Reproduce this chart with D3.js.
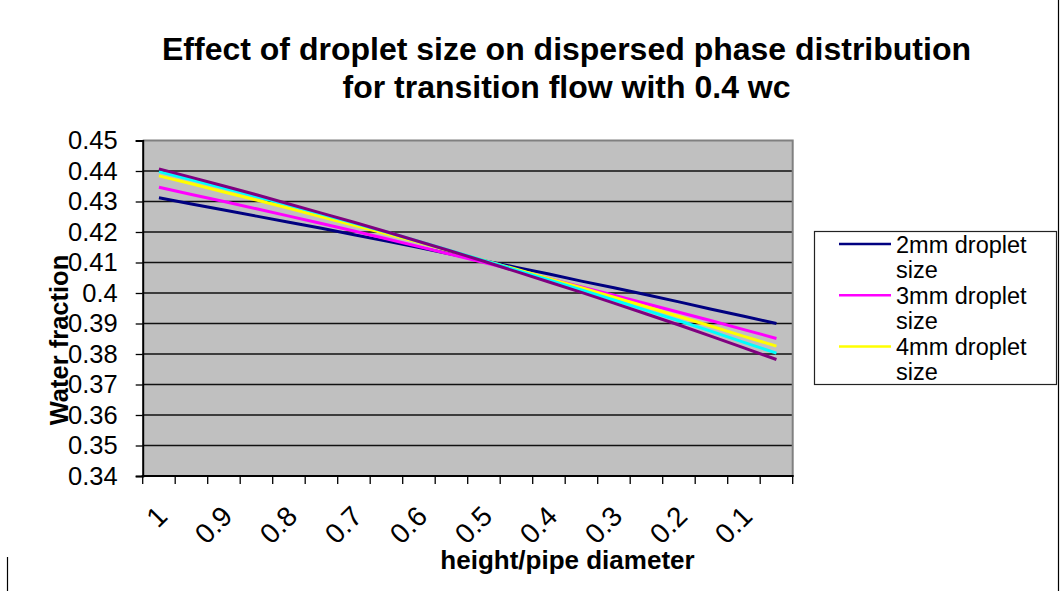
<!DOCTYPE html>
<html>
<head>
<meta charset="utf-8">
<script src="https://cdn.jsdelivr.net/npm/d3@7/dist/d3.min.js"></script>
<style>
  html, body { margin: 0; padding: 0; background: #fff; }
  svg { display: block; }
  text { font-family: "Liberation Sans", Arial, Helvetica, sans-serif; fill: #000; }
</style>
</head>
<body>
<svg id="chart" width="1061" height="591"></svg>
<script>
// Category axis: height / pipe diameter, top of pipe (1) to bottom (0.05)
const categories = ["1", "0.95", "0.9", "0.85", "0.8", "0.75", "0.7", "0.65", "0.6", "0.55",
                    "0.5", "0.45", "0.4", "0.35", "0.3", "0.25", "0.2", "0.15", "0.1", "0.05"];
// Only every second category carries a label
const xTickLabels = ["1", "0.9", "0.8", "0.7", "0.6", "0.5", "0.4", "0.3", "0.2", "0.1"];
const yTicks = [0.34, 0.35, 0.36, 0.37, 0.38, 0.39, 0.40, 0.41, 0.42, 0.43, 0.44, 0.45];

// Water fraction profiles, one value per category
const drop2mm = [0.4312, 0.4292, 0.4272, 0.4252, 0.4232, 0.4212, 0.4191, 0.4170, 0.4149, 0.4127,
                 0.4106, 0.4084, 0.4062, 0.4039, 0.4017, 0.3994, 0.3971, 0.3947, 0.3924, 0.3900];
const drop3mm = [0.4347, 0.4323, 0.4300, 0.4276, 0.4252, 0.4228, 0.4203, 0.4178, 0.4152, 0.4126,
                 0.4100, 0.4074, 0.4047, 0.4020, 0.3993, 0.3965, 0.3937, 0.3909, 0.3880, 0.3851];
const drop4mm = [0.4384, 0.4358, 0.4331, 0.4305, 0.4278, 0.4250, 0.4222, 0.4194, 0.4166, 0.4137,
                 0.4107, 0.4078, 0.4047, 0.4017, 0.3986, 0.3955, 0.3923, 0.3891, 0.3858, 0.3826];
const drop5mm = [0.4398, 0.4371, 0.4344, 0.4316, 0.4288, 0.4259, 0.4229, 0.4200, 0.4169, 0.4138,
                 0.4107, 0.4075, 0.4043, 0.4010, 0.3977, 0.3943, 0.3909, 0.3874, 0.3838, 0.3803];
const drop6mm = [0.4407, 0.4379, 0.4351, 0.4322, 0.4292, 0.4262, 0.4232, 0.4201, 0.4169, 0.4137,
                 0.4104, 0.4070, 0.4036, 0.4002, 0.3967, 0.3931, 0.3895, 0.3858, 0.3820, 0.3782];

const seriesNames = ["2mm droplet size", "3mm droplet size", "4mm droplet size",
                     "5mm droplet size", "6mm droplet size"];
const seriesColors = ["#000080", "#FF00FF", "#FFFF00", "#00FFFF", "#800080"];
const seriesValues = [drop2mm, drop3mm, drop4mm, drop5mm, drop6mm];

const series = seriesNames.map((name, i) => ({ name, color: seriesColors[i], values: seriesValues[i] }));

const svg = d3.select("#chart");

// Plot area
const plot = { left: 142.7, right: 792.7, top: 140.5, bottom: 476 };

const x = d3.scaleBand().domain(categories).range([plot.left, plot.right]).paddingInner(0).paddingOuter(0);
const y = d3.scaleLinear().domain([0.34, 0.45]).range([plot.bottom, plot.top]);
const cx = c => x(c) + x.bandwidth() / 2;

// Chart area edges
svg.append("line").attr("x1", 1058.5).attr("x2", 1058.5).attr("y1", 0).attr("y2", 591)
  .attr("stroke", "#000").attr("stroke-width", 1.2);
svg.append("line").attr("x1", 7.5).attr("x2", 7.5).attr("y1", 557).attr("y2", 591)
  .attr("stroke", "#000").attr("stroke-width", 1.2);

// Title
const title = svg.append("text")
  .attr("x", 566.5).attr("text-anchor", "middle")
  .style("font-size", "32px").style("font-weight", "bold");
title.append("tspan").attr("x", 566.5).attr("y", 60).text("Effect of droplet size on dispersed phase distribution");
title.append("tspan").attr("x", 566.5).attr("y", 97.5).text("for transition flow with 0.4 wc");

// Plot background
svg.append("rect")
  .attr("x", plot.left).attr("y", plot.top)
  .attr("width", plot.right - plot.left).attr("height", plot.bottom - plot.top)
  .attr("fill", "#C0C0C0");

// Horizontal gridlines
svg.append("g").selectAll("line")
  .data(yTicks.filter(v => v > 0.34 && v < 0.45))
  .join("line")
  .attr("x1", plot.left).attr("x2", plot.right)
  .attr("y1", d => y(d)).attr("y2", d => y(d))
  .attr("stroke", "#111").attr("stroke-width", 1.3);

// Plot border (top and right)
svg.append("path")
  .attr("d", `M${plot.left},${plot.top}H${plot.right}V${plot.bottom}`)
  .attr("fill", "none").attr("stroke", "#808080").attr("stroke-width", 2);

// Series lines
const line = d3.line()
  .x((d, i) => cx(categories[i]))
  .y(d => y(d));

svg.append("g").selectAll("path")
  .data(series)
  .join("path")
  .attr("d", d => line(d.values))
  .attr("fill", "none")
  .attr("stroke", d => d.color)
  .attr("stroke-width", 3)
  .attr("stroke-linejoin", "round");

// Y axis
const yAxis = d3.axisLeft(y)
  .tickValues(yTicks)
  .tickSize(7)
  .tickPadding(18)
  .tickFormat(d => String(+d.toFixed(2)));

const gy = svg.append("g")
  .attr("transform", `translate(${plot.left},0)`)
  .call(yAxis);
gy.select(".domain").attr("stroke", "#000").attr("stroke-width", 2);
gy.selectAll(".tick line").attr("stroke", "#000").attr("stroke-width", 1.3);
gy.selectAll(".tick text")
  .style("font-size", "25.5px")
  .attr("font-family", null)
  .attr("dy", "0.33em");

// X axis: line, tick marks on category boundaries, labels on every second category
const gx = svg.append("g");
gx.append("line")
  .attr("x1", plot.left - 1).attr("x2", plot.right + 1)
  .attr("y1", plot.bottom).attr("y2", plot.bottom)
  .attr("stroke", "#000").attr("stroke-width", 2);

const boundaries = categories.map(c => x(c)).concat([x(categories[categories.length - 1]) + x.bandwidth()]);
gx.selectAll("line.xtick")
  .data(boundaries)
  .join("line")
  .attr("class", "xtick")
  .attr("x1", d => d).attr("x2", d => d)
  .attr("y1", plot.bottom).attr("y2", plot.bottom + 8)
  .attr("stroke", "#000").attr("stroke-width", 1.3);

gx.selectAll("text.xlab")
  .data(xTickLabels)
  .join("text")
  .attr("class", "xlab")
  .attr("text-anchor", "end")
  .attr("transform", d => `translate(${cx(d) + 10},${plot.bottom + 42}) rotate(-45)`)
  .style("font-size", "28px")
  .text(d => d);

// Axis titles
svg.append("text")
  .attr("x", 567.5).attr("y", 569)
  .attr("text-anchor", "middle")
  .style("font-size", "26px").style("font-weight", "bold")
  .text("height/pipe diameter");

svg.append("text")
  .attr("transform", "translate(68,340) rotate(-90)")
  .attr("text-anchor", "middle")
  .style("font-size", "25.5px").style("font-weight", "bold")
  .text("Water fraction");

// Legend
const legendBox = { x: 814.5, y: 231.5, w: 242, h: 153 };
const legend = svg.append("g");
legend.append("rect")
  .attr("x", legendBox.x).attr("y", legendBox.y)
  .attr("width", legendBox.w).attr("height", legendBox.h)
  .attr("fill", "#fff").attr("stroke", "#222").attr("stroke-width", 1.2);

const entryStep = 51.2;
const firstLineY = 244;
const shown = series.filter((s, i) => firstLineY + i * entryStep + 33 < legendBox.y + legendBox.h);

const entries = legend.selectAll("g.entry")
  .data(shown)
  .join("g")
  .attr("class", "entry")
  .attr("transform", (d, i) => `translate(0,${firstLineY + i * entryStep})`);

entries.append("line")
  .attr("x1", 839).attr("x2", 891).attr("y1", 0).attr("y2", 0)
  .attr("stroke", d => d.color).attr("stroke-width", 2.5);

entries.each(function (d) {
  const cut = d.name.lastIndexOf(" ");
  const parts = [d.name.slice(0, cut), d.name.slice(cut + 1)];
  const t = d3.select(this).append("text").style("font-size", "23.5px");
  t.append("tspan").attr("x", 896).attr("y", 8.5).text(parts[0]);
  t.append("tspan").attr("x", 896).attr("y", 33.5).text(parts[1]);
});
</script>
</body>
</html>
